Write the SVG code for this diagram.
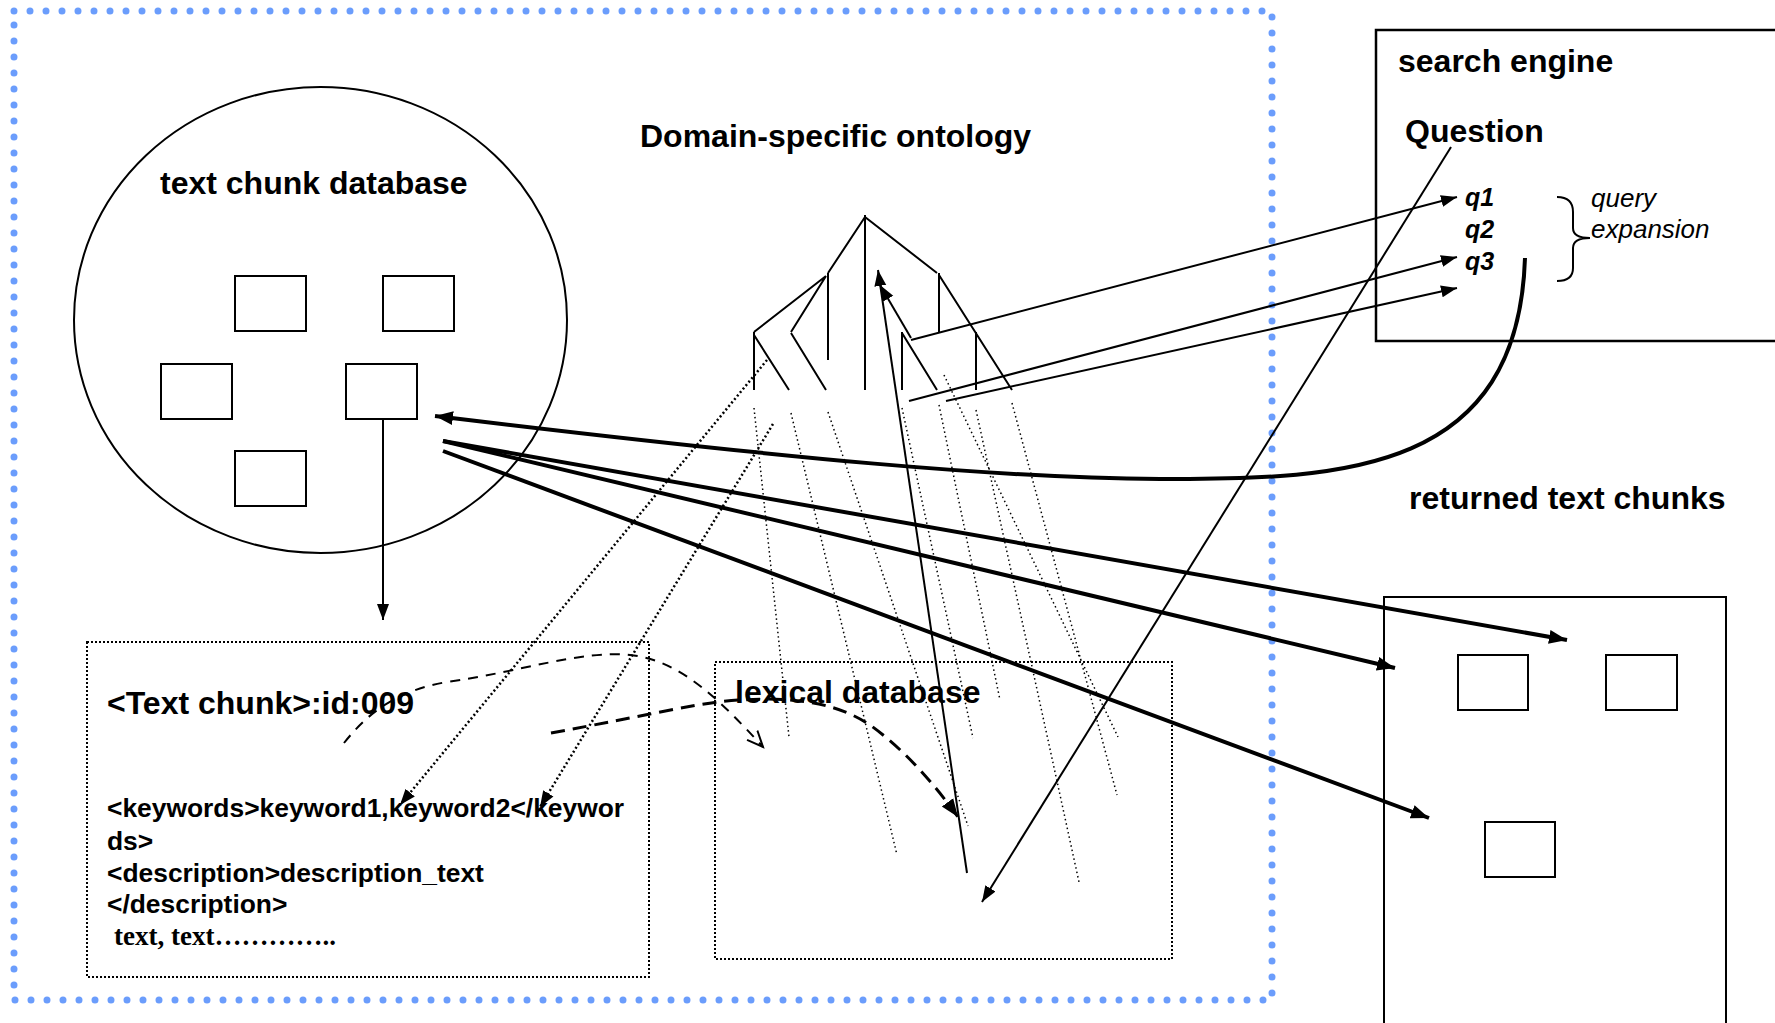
<svg xmlns="http://www.w3.org/2000/svg" width="1775" height="1023" viewBox="0 0 1775 1023">
<style>
text{font-family:"Liberation Sans",Arial,sans-serif;fill:#000}
.h{font-size:32px;font-weight:bold}
.b{font-size:26.4px;font-weight:bold}
.q{font-size:25px;font-weight:bold;font-style:italic}
.it{font-size:26px;font-style:italic}
.ln{fill:none;stroke:#000;stroke-width:2}
.thick{fill:none;stroke:#000;stroke-width:4}
.ray{fill:none;stroke:#000;stroke-width:1.5;stroke-dasharray:1.5 3}
.kray{fill:none;stroke:#000;stroke-width:2.5;stroke-dasharray:2 2.5}
.dbox{fill:none;stroke:#000;stroke-width:2;stroke-dasharray:2 2}
.box{fill:#fff;stroke:#000;stroke-width:2}
.blue{fill:none;stroke:#6b9dfc;stroke-width:7;stroke-linecap:round;stroke-dasharray:0 16}
</style>
<defs>
<marker id="ah" markerUnits="userSpaceOnUse" markerWidth="20" markerHeight="16" refX="18" refY="8" orient="auto"><path d="M0,1 L18,8 L0,15 z" fill="#000"/></marker>
<marker id="ahs" markerUnits="userSpaceOnUse" markerWidth="18" markerHeight="14" refX="16" refY="7" orient="auto"><path d="M0,1 L16,7 L0,13 z" fill="#000"/></marker>
<marker id="aho" markerUnits="userSpaceOnUse" markerWidth="20" markerHeight="20" refX="16" refY="10" orient="auto"><path d="M0,3 L16,10 L0,17" fill="none" stroke="#000" stroke-width="2"/></marker>
</defs>
<rect width="1775" height="1023" fill="#fff"/>

<g id="frame">
<path class="blue" d="M14,11 H1272 V1000 H14 Z"/>
</g>

<g id="text-chunk-database">
<ellipse cx="320.5" cy="320" rx="246.5" ry="233" fill="none" stroke="#000" stroke-width="2"/>
<text class="h" x="160" y="194">text chunk database</text>
<rect class="box" x="235" y="276" width="71" height="55"/>
<rect class="box" x="383" y="276" width="71" height="55"/>
<rect class="box" x="161" y="364" width="71" height="55"/>
<rect class="box" x="346" y="364" width="71" height="55"/>
<rect class="box" x="235" y="451" width="71" height="55"/>
</g>

<g id="text-chunk">
<rect class="dbox" x="87" y="642" width="562" height="335"/>
<text class="h" x="107" y="714">&lt;Text chunk&gt;:id:009</text>
<text class="b" x="107" y="817">&lt;keywords&gt;keyword1,keyword2&lt;/keywor</text>
<text class="b" x="107" y="850">ds&gt;</text>
<text class="b" x="107" y="882">&lt;description&gt;description_text</text>
<text class="b" x="107" y="913">&lt;/description&gt;</text>
<text x="114" y="945" style="font-family:'Liberation Serif','Times New Roman',serif;font-size:27px;font-weight:bold">text, text…………..</text>
</g>

<g id="lexical-database">
<rect class="dbox" x="715" y="662" width="457" height="297"/>
</g>

<g id="ontology">
<text class="h" x="640" y="147">Domain-specific ontology</text>
<path class="ln" d="M865,215 V390 M865,217 L828,273 M865,217 L937,273 M828,273 V360 M826,276 L754,332 M826,276 L791,332 M754,332 V390 M754,335 L789,390 M791,333 L826,390 M939,273 V332 M939,275 L1012,390 M976,332 V390 M902,332 V390 M902,333 L937,390"/>
</g>

<g id="search-engine">
<rect x="1376" y="30" width="420" height="311" fill="none" stroke="#000" stroke-width="2.5"/>
<text class="h" x="1398" y="72">search engine</text>
<text class="h" x="1405" y="142">Question</text>
<text class="q" x="1465" y="206">q1</text>
<text class="q" x="1465" y="238">q2</text>
<text class="q" x="1465" y="270">q3</text>
<path class="ln" d="M1557,197 C1568,197 1573,202 1573,212 V228 C1573,234 1578,238 1590,238 C1578,238 1573,242 1573,248 V268 C1573,277 1568,281 1557,281"/>
<text class="it" x="1591" y="207">query</text>
<text class="it" x="1591" y="238">expansion</text>
</g>

<g id="returned-text-chunks">
<text class="h" x="1409" y="509">returned text chunks</text>
<rect x="1384" y="597" width="342" height="450" fill="none" stroke="#000" stroke-width="2"/>
<rect class="box" x="1458" y="655" width="70" height="55"/>
<rect class="box" x="1606" y="655" width="71" height="55"/>
<rect class="box" x="1485" y="822" width="70" height="55"/>
</g>

<g id="connectors">
<path class="ray" d="M754,408 L789,737 M791,413 L897,855 M828,412 L968,826 M902,408 L973,738 M939,405 L1000,700 M944,375 L1118,737 M976,410 L1079,882 M1012,403 L1117,795"/>
<path class="kray" d="M767,360 L400,805" marker-end="url(#ahs)"/>
<path class="kray" d="M773,424 L540,807" marker-end="url(#ahs)"/>
<path d="M344,743 C370,710 400,690 447,682 C520,672 580,650 630,655 C680,660 720,700 763,747" fill="none" stroke="#000" stroke-width="2" stroke-dasharray="10 8" marker-end="url(#aho)"/>
<path d="M551,733 C650,715 700,702 740,700 C800,696 840,705 870,725 C905,750 935,785 958,817" fill="none" stroke="#000" stroke-width="3" stroke-dasharray="14 8" marker-end="url(#ah)"/>
<path class="ln" d="M383,419 V620" marker-end="url(#ahs)"/>
<path class="thick" d="M1525,258 C1518,470 1350,480 1160,479 C1000,478 800,460 435,416" marker-end="url(#ah)"/>
<path class="thick" d="M443,441 L1567,640" marker-end="url(#ah)"/>
<path class="thick" d="M443,441 L1395,668" marker-end="url(#ah)"/>
<path class="thick" d="M443,451 L1429,818" marker-end="url(#ah)"/>
<path class="ln" d="M911,340 L1457,197" marker-end="url(#ahs)"/>
<path class="ln" d="M909,401 L1457,257" marker-end="url(#ahs)"/>
<path class="ln" d="M946,401 L1457,288" marker-end="url(#ahs)"/>
<path class="ln" d="M911,338 L880,285" marker-end="url(#ahs)"/>
<path class="ln" d="M967,873 L878,270" marker-end="url(#ahs)"/>
<path class="ln" d="M1451,147 L982,902" marker-end="url(#ahs)"/>
</g>
<text class="h" x="735" y="703">lexical database</text>
</svg>
